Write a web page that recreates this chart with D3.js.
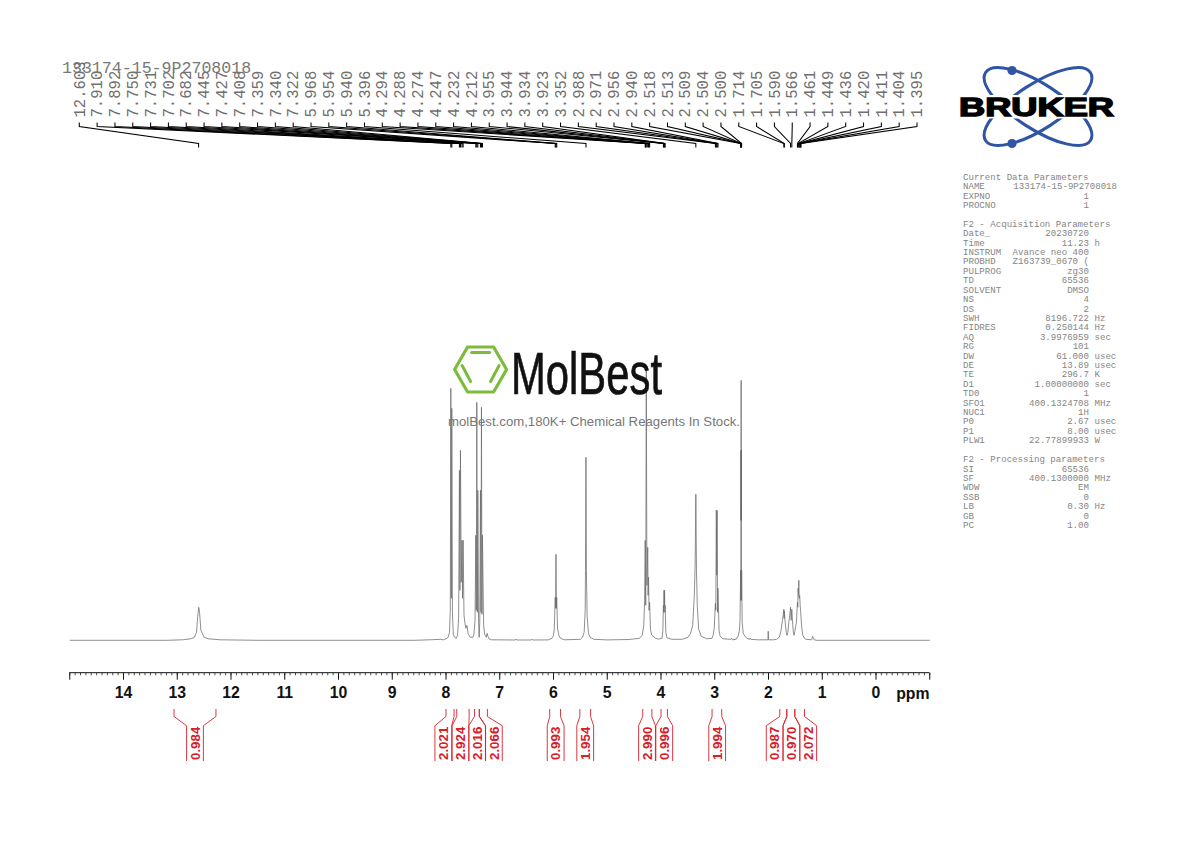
<!DOCTYPE html>
<html><head><meta charset="utf-8">
<script src="https://cdn.jsdelivr.net/npm/d3@7/dist/d3.min.js"></script>
<style>html,body{margin:0;padding:0;background:#fff}svg{display:block}</style>
</head><body><svg id="c" width="1190" height="842"></svg>
<script>
const sampleName = "133174-15-9P2708018";
const peakLabels = ["12.603","7.910","7.892","7.750","7.731","7.702","7.682","7.445","7.427","7.408","7.359","7.340","7.322","5.968","5.954","5.940","5.396","4.294","4.288","4.274","4.247","4.232","4.212","3.955","3.944","3.934","3.923","3.352","2.988","2.971","2.956","2.940","2.518","2.513","2.509","2.504","2.500","1.714","1.705","1.590","1.566","1.461","1.449","1.436","1.420","1.411","1.404","1.395"];

const tracePpm = [15,13.2,12.9,12.75,12.68,12.64,12.62,12.60,12.585,12.56,12.5,12.42,12.2,11.5,8.6,8.3,8.1,8.05,8.0,
 7.96,7.935,7.92,7.91,7.901,7.892,7.88,7.865,7.84,7.81,7.785,7.765,7.75,7.741,7.731,7.717,7.702,7.692,7.682,7.665,7.65,7.63,7.61,7.59,7.57,7.55,7.5,7.48,7.46,
 7.445,7.436,7.427,7.417,7.408,7.395,7.383,7.372,7.359,7.35,7.34,7.331,7.322,7.30,7.28,7.25,7.235,7.22,7.2,7.15,6.71,6.7,6.68,6.41,6.4,6.38,6.1,
 6.03,6.0,5.985,5.968,5.961,5.954,5.947,5.940,5.925,5.9,5.87,5.8,5.5,5.46,5.43,5.41,5.405,5.396,5.388,5.375,5.35,5.32,5.25,5.0,4.6,
 4.4,4.35,4.32,4.305,4.294,4.284,4.274,4.262,4.247,4.24,4.232,4.222,4.212,4.195,4.17,4.1,4.05,3.98,3.965,3.955,3.95,3.944,3.939,3.934,3.928,3.923,3.91,3.89,3.8,3.6,
 3.5,3.45,3.41,3.38,3.365,3.352,3.34,3.325,3.3,3.25,3.15,3.05,3.03,3.01,2.988,2.98,2.971,2.963,2.956,2.948,2.940,2.92,2.90,2.85,2.7,2.685,2.67,2.6,
 2.56,2.54,2.53,2.518,2.516,2.513,2.511,2.509,2.507,2.504,2.502,2.500,2.49,2.47,2.44,2.4,2.35,2.34,2.33,2.2,2.01,2.005,2.0,1.9,
 1.85,1.8,1.77,1.74,1.725,1.714,1.709,1.705,1.69,1.67,1.656,1.64,1.62,1.60,1.59,1.578,1.566,1.55,1.535,1.525,1.51,1.495,1.48,1.475,1.461,1.455,1.449,1.443,1.436,1.43,1.42,1.411,1.404,1.395,1.38,1.36,1.33,1.3,1.2,1.195,1.18,1.17,1.15,1.1,0,-1];
const traceIntensity = [0,0,0.5,1.5,3,8,24,33,28,10,3,1.5,0.5,0,0,0.5,1,0.5,1.5,
 3,8,30,252,42,232,28,6,3,2,5,22,170,50,190,58,100,42,100,25,18,12,15,7,5,3,3,6,20,
 105,30,238,28,150,22,3,18,150,28,233,26,105,15,6,3,7,4,1.5,0.5,0.3,1.2,0.3,0.3,1,0.3,0.4,
 2,5,12,43,32,86,32,43,12,5,2,0.5,1,3,8,30,70,183,70,25,7,3,1,0.4,0.8,
 2,5,15,40,100,35,270,55,93,45,63,30,38,10,5,2,1.2,2,10,35,28,50,35,50,28,35,8,2.5,1,1,
 3,7,15,45,75,146,70,35,11,4,1.5,2,5,12,37,30,130,65,130,28,52,10,4,1.5,1,2,0.5,1,
 5,10,20,70,40,190,120,260,120,190,40,70,18,7,4,2,1,2,1,0.5,0.5,9,0.5,0.5,
 1,3,9,20,26,31,22,29,18,8,5,8,19,27,33,20,31,16,7,5,9,14,18,24,38,33,52,45,60,42,45,35,30,23,12,5,2,1,0.5,0.5,4,3,0.5,0,0,0];

const integralFrom = [13.06,8.00,7.80,7.47,7.38,6.07,5.51,4.34,4.00,3.05,1.79,1.66,1.51];
const integralTo   = [12.28,7.85,7.57,7.38,7.23,5.87,5.31,4.17,3.88,2.87,1.66,1.51,1.33];
const integralAt   = [12.67,8.05,7.73,7.42,7.11,5.96,5.41,4.26,3.94,2.955,1.885,1.574,1.261];
const integralValues = ["0.984","2.021","2.924","2.016","2.066","0.993","1.954","2.990","0.996","1.994","0.987","0.970","2.072"];

const axisLabels = [14,13,12,11,10,9,8,7,6,5,4,3,2,1,0];

const paramTitles = ["Current Data Parameters","F2 - Acquisition Parameters","F2 - Processing parameters"];
const paramNames = ["NAME","EXPNO","PROCNO","","","Date_","Time","INSTRUM","PROBHD","PULPROG","TD","SOLVENT","NS","DS","SWH","FIDRES","AQ","RG","DW","DE","TE","D1","TD0","SFO1","NUC1","P0","P1","PLW1","","","SI","SF","WDW","SSB","LB","GB","PC"];
const paramValues = ["133174-15-9P2708018","1","1","","","20230720","11.23","Avance neo 400","Z163739_0670 (","zg30","65536","DMSO","4","2","8196.722","0.250144","3.9976959","101","61.000","13.89","296.7","1.00000000","1","400.1324708","1H","2.67","8.00","22.77899933","","","65536","400.1300000","EM","0","0.30","0","1.00"];
const paramUnits = ["","","","","","","h","","","","","","","","Hz","Hz","sec","","usec","usec","K","sec","","MHz","","usec","usec","W","","","","MHz","","","Hz","",""];

const svg = d3.select("#c");
const x = d3.scaleLinear().domain([15,-1]).range([69.75,929.75]);
const y = d3.scaleLinear().domain([0,270]).range([640.3,370.3]);
const mono = "'Liberation Mono',monospace", sans = "'Liberation Sans',Arial,sans-serif";

// title
svg.append("text").attr("x",62).attr("y",73).attr("font-family",mono).attr("font-size",16.6).attr("fill","#777").text(sampleName);

// peak labels & leaders
const lx = d3.scalePoint().domain(d3.range(peakLabels.length)).range([79.3,917]);
const leader = d3.line();
const peaks = svg.append("g");
peakLabels.forEach((t,i)=>{
  const p = x(+t), l = lx(i);
  peaks.append("path").attr("fill","none").attr("stroke","#000").attr("stroke-width",1.05)
    .attr("d",leader([[l,122.5],[l,126.5],[p,143.5],[p,147.5]]));
  peaks.append("text").attr("transform",`translate(${l+5.2},117.5) rotate(-90)`)
    .attr("font-family",mono).attr("font-size",15.6).attr("fill","#707070").text(t);
});

// spectrum
const line = d3.line().x(d=>x(d[0])).y(d=>y(d[1]));
svg.append("path").attr("fill","none").attr("stroke","#6a6a6a").attr("stroke-width",0.75)
  .attr("stroke-linejoin","round")
  .attr("d",line(tracePpm.map((p,i)=>[p,traceIntensity[i]])));

// axis
const major = svg.append("g").attr("transform","translate(-0.5,672.7)")
  .call(d3.axisBottom(x).tickValues([15].concat(axisLabels,[-1])).tickSize(7).tickPadding(7.5)
    .tickFormat(d=> (d>=0&&d<=14)? d : ""));
major.select(".domain").attr("stroke","#111").attr("d",`M${x(15)},0H${x(-1)}`);
major.selectAll("line").attr("stroke","#111");
major.selectAll("text").attr("font-family",sans).attr("font-weight","bold").attr("font-size",15.8).attr("fill","#111");
const minor = svg.append("g").attr("transform","translate(-0.5,672.7)")
  .call(d3.axisBottom(x).tickValues(d3.range(-10,151).map(d=>d/10)).tickSize(2.6).tickFormat(""));
minor.select(".domain").remove();
minor.selectAll("line").attr("stroke","#222").attr("stroke-width",0.8);
svg.append("text").attr("x",929.5).attr("y",698.5).attr("text-anchor","end").attr("font-family",sans)
  .attr("font-weight","bold").attr("font-size",15.8).attr("fill","#111").text("ppm");

// integrals
const red = "#d8202a";
const ig = svg.append("g");
integralValues.forEach((v,i)=>{
  const c = x(integralAt[i]), a = x(integralFrom[i]), b = x(integralTo[i]);
  [[a,c-8.4],[b,c+8.4]].forEach(([s,e])=>{
    ig.append("path").attr("fill","none").attr("stroke",red).attr("stroke-width",0.9)
      .attr("d",leader([[s,709],[s,716.5],[e,725.7],[e,761]]));
  });
  ig.append("text").attr("transform",`translate(${c+4.8},760) rotate(-90)`)
    .attr("font-family",sans).attr("font-weight","bold").attr("font-size",13.3).attr("fill",red).text(v);
});

// MolBest logo
const hex = svg.append("g").attr("transform","translate(480.6,369.5)");
const hexPts = d3.range(6).map(i=>[26*Math.cos(i*Math.PI/3),26*Math.sin(i*Math.PI/3)]);
hex.append("path").attr("d",d3.line().curve(d3.curveLinearClosed)(hexPts)).attr("fill","none")
  .attr("stroke","#7dbb3c").attr("stroke-width",3.2).attr("stroke-linejoin","round");
[[-9,-17,9,-17],[-18.5,-4,-10,12],[18.5,-4,10,12]].forEach(s=>{
  hex.append("line").attr("x1",s[0]).attr("y1",s[1]).attr("x2",s[2]).attr("y2",s[3])
    .attr("stroke","#7dbb3c").attr("stroke-width",3).attr("stroke-linecap","round");
});
svg.append("text").attr("x",511).attr("y",393.5).attr("font-family",sans).attr("font-size",59)
  .attr("textLength",151).attr("lengthAdjust","spacingAndGlyphs").attr("fill","#111").attr("stroke","#111").attr("stroke-width",0.7).text("MolBest");
svg.append("text").attr("x",448).attr("y",426).attr("font-family",sans).attr("font-size",13.6)
  .attr("textLength",292).attr("lengthAdjust","spacingAndGlyphs").attr("fill","#777").text("molBest.com,180K+ Chemical Reagents In Stock.");

// Bruker logo
const bl = svg.append("g");
[33,-33].forEach(r=>{
  bl.append("ellipse").attr("cx",1038).attr("cy",106.5).attr("rx",62.5).attr("ry",22.5)
    .attr("transform",`rotate(${r} 1038 106.5)`).attr("fill","none").attr("stroke","#2f55a4").attr("stroke-width",3);
});
bl.append("circle").attr("cx",1012).attr("cy",70.5).attr("r",4.6).attr("fill","#2f55a4");
bl.append("circle").attr("cx",1012).attr("cy",143.5).attr("r",4.6).attr("fill","#2f55a4");
bl.append("rect").attr("x",955).attr("y",95).attr("width",165).attr("height",23.5).attr("fill","#fff");
bl.append("text").attr("x",959).attr("y",116).attr("font-family",sans).attr("font-weight","bold").attr("font-size",25)
  .attr("textLength",155).attr("lengthAdjust","spacingAndGlyphs").attr("fill","#000").attr("stroke","#000").attr("stroke-width",1.4).text("BRUKER");

// parameters
const pg = svg.append("g").attr("font-family",mono).attr("font-size",9.1).attr("fill","#858585");
const py = i => 179.8 + i*9.41;
pg.append("text").attr("x",963).attr("y",py(0)).text(paramTitles[0]);
pg.append("text").attr("x",963).attr("y",py(5)).text(paramTitles[1]);
pg.append("text").attr("x",963).attr("y",py(30)).text(paramTitles[2]);
paramNames.forEach((n,i)=>{
  if(!n) return;
  const row = i+1;
  pg.append("text").attr("x",963).attr("y",py(row)).text(n);
  pg.append("text").attr("x",i===0?1117:1089).attr("y",py(row)).attr("text-anchor","end").text(paramValues[i]);
  if(paramUnits[i]) pg.append("text").attr("x",1094.5).attr("y",py(row)).text(paramUnits[i]);
});
</script></body></html>
